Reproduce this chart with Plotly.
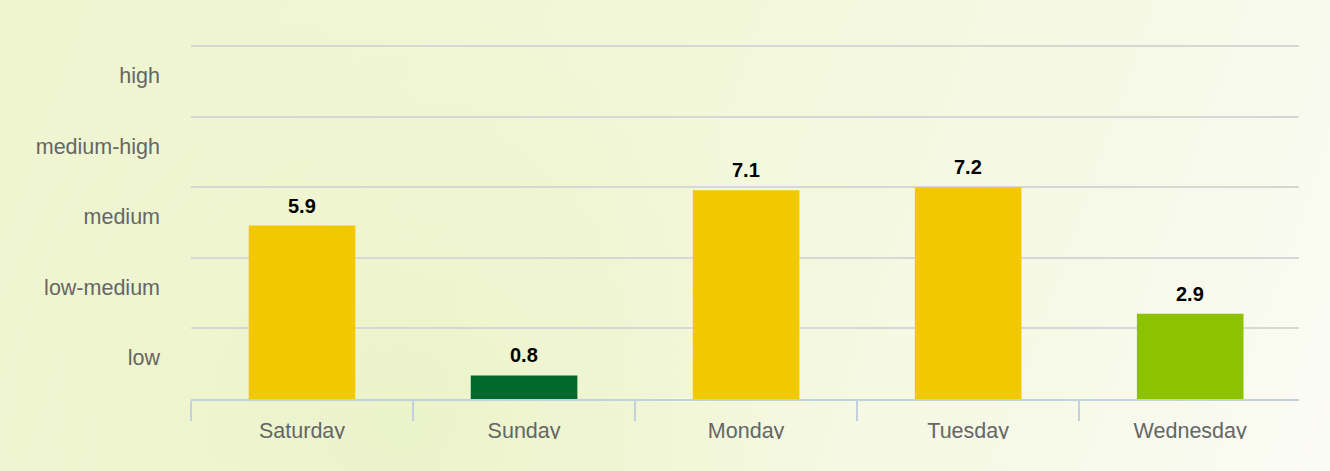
import base64
import plotly.graph_objects as go

days = ["Saturday", "Sunday", "Monday", "Tuesday", "Wednesday"]
values = [5.9, 0.8, 7.1, 7.2, 2.9]
bar_colors = ["#F2C800", "#006A2C", "#F2C800", "#F2C800", "#8DC200"]
level_labels = ["low", "low-medium", "medium", "medium-high", "high"]
level_mid = [1.2, 3.6, 6.0, 8.4, 10.8]
grid_vals = [2.4, 4.8, 7.2, 9.6, 12.0]

W, H = 1330, 471
L, R, T, B = 191, 31, 45, 72
pw, ph = W - L - R, H - T - B
CLIP_Y = 439  # page height at which the original chart container is clipped


def bg_svg(y0, h):
    svg = f"""<svg xmlns='http://www.w3.org/2000/svg' width='{W}' height='{h}' viewBox='0 {y0} {W} {h}' preserveAspectRatio='none'>
<defs>
<linearGradient id='g' gradientUnits='userSpaceOnUse' x1='0' y1='0' x2='{W}' y2='{H}'>
<stop offset='0' stop-color='#EEF5CF'/>
<stop offset='0.45' stop-color='#F2F7D8'/>
<stop offset='0.8' stop-color='#F7F9E8'/>
<stop offset='1' stop-color='#FBFBF5'/>
</linearGradient>
<radialGradient id='r' gradientUnits='userSpaceOnUse' cx='400' cy='420' r='420'>
<stop offset='0' stop-color='#E9F2C6' stop-opacity='0.7'/>
<stop offset='1' stop-color='#E9F2C6' stop-opacity='0'/>
</radialGradient>
</defs>
<rect x='0' y='0' width='{W}' height='{H}' fill='url(#g)'/>
<rect x='0' y='0' width='{W}' height='{H}' fill='url(#r)'/>
</svg>"""
    return "data:image/svg+xml;base64," + base64.b64encode(svg.encode()).decode()


fig = go.Figure()
fig.add_trace(go.Bar(
    x=days, y=values, marker=dict(color=bar_colors, line=dict(width=0)),
    hoverinfo="skip", showlegend=False,
))
for d, v in zip(days, values):
    fig.add_annotation(x=d, y=v, text=f"<b>{v}</b>", showarrow=False,
                       yanchor="bottom", yshift=7,
                       font=dict(family="Liberation Sans, Arial", size=20, color="#000000"))

fig.update_layout(
    width=W, height=H,
    margin=dict(l=L, r=R, t=T, b=B, pad=0),
    paper_bgcolor="#F2F7DA",
    plot_bgcolor="rgba(0,0,0,0)",
    bargap=0.52,
    font=dict(family="Liberation Sans, Arial", size=21, color="#666666"),
    images=[
        dict(source=bg_svg(0, H), xref="paper", yref="paper",
             x=-L / pw, y=1 + T / ph, sizex=W / pw, sizey=H / ph,
             xanchor="left", yanchor="top", sizing="stretch", layer="below"),
        dict(source=bg_svg(CLIP_Y, H - CLIP_Y), xref="paper", yref="paper",
             x=-L / pw, y=-(CLIP_Y - T - ph) / ph, sizex=W / pw, sizey=(H - CLIP_Y) / ph,
             xanchor="left", yanchor="top", sizing="stretch", layer="above"),
    ],
    xaxis=dict(
        range=[-0.5, len(days) - 0.51],
        showline=True, linecolor="#C3D1DF", linewidth=2,
        ticks="outside", tickson="boundaries", ticklen=20, tickwidth=2,
        tickcolor="#C3D1DF", showgrid=False, zeroline=False,
        tickfont=dict(size=21.5, color="#666666"), ticklabelstandoff=11,
    ),
    yaxis=dict(
        range=[0, 12.04], tickmode="array", tickvals=level_mid, ticktext=level_labels,
        showgrid=False, zeroline=False, showline=False, ticks="",
        ticklabelstandoff=30, ticklabelshift=-6,
        tickfont=dict(size=21.5, color="#666666"),
        minor=dict(tickmode="array", tickvals=grid_vals, showgrid=True,
                   gridcolor="#D6D8D6", gridwidth=2, ticks=""),
    ),
)

fig.write_html("out.html", config={"displayModeBar": False},
               post_script="document.body.style.margin='0';")
